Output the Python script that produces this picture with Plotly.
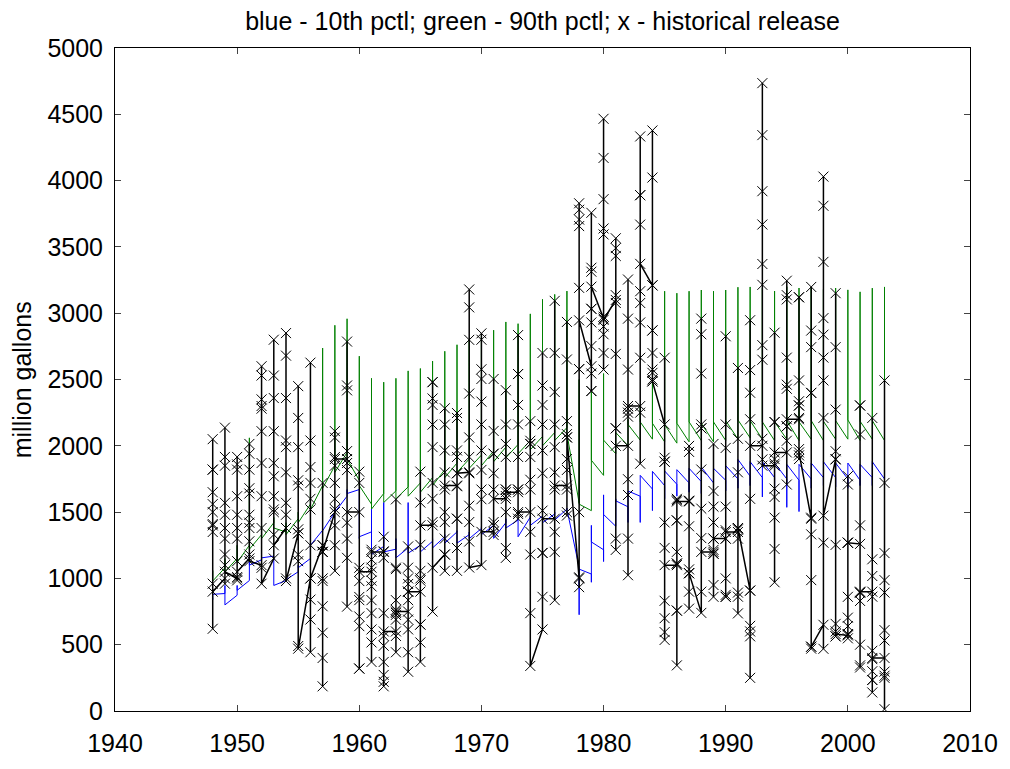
import plotly.graph_objects as go

years = list(range(1948, 2004))

# historical monthly releases (million gallons), 12 values per year
hist = [
    [1400, 1820, 2050, 1820, 1650, 1560, 1500, 1410, 1350, 960, 620, 900],
    [1000, 2137, 1916, 1850, 1570, 1480, 1380, 1300, 1180, 1100, 960, 1050],
    [1000, 1916, 1860, 1820, 1620, 1480, 1380, 1300, 1130, 1010, 985, 1050],
    [1150, 2014, 1940, 1820, 1680, 1640, 1480, 1420, 1380, 1280, 1180, 1130],
    [1100, 2600, 2530, 2350, 2300, 2280, 2110, 1870, 1620, 1380, 1080, 960],
    [1150, 2800, 2530, 2360, 2110, 1870, 1770, 1620, 1520, 1500, 1330, 1250],
    [1380, 2850, 2680, 2360, 2040, 1990, 1800, 1570, 1480, 1380, 1000, 980],
    [1340, 2450, 2210, 1990, 1740, 1700, 1370, 1340, 1180, 1130, 490, 470],
    [1000, 2627, 2040, 1840, 1720, 1600, 1520, 1250, 840, 690, 443, 1000],
    [1250, 1720, 1250, 1200, 980, 790, 590, 400, 186, 1000, 1200, 1200],
    [1500, 2111, 2062, 1915, 1850, 1720, 1600, 1523, 1400, 1250, 1057, 1900],
    [1900, 2786, 2455, 2418, 1960, 1870, 1817, 1420, 1300, 1155, 787, 1500],
    [1500, 1805, 1720, 1080, 980, 860, 836, 713, 640, 320, 320, 1050],
    [1050, 1216, 1143, 1081, 983, 940, 836, 738, 615, 517, 370, 1200],
    [1200, 1314, 1204, 1155, 738, 566, 492, 370, 272, 186, 220, 600],
    [600, 1596, 1081, 1070, 836, 763, 740, 725, 689, 566, 443, 750],
    [750, 1241, 1081, 1000, 958, 900, 836, 689, 615, 443, 296, 900],
    [900, 1805, 1572, 1253, 1057, 983, 652, 652, 517, 370, 1000, 1400],
    [1400, 2480, 2480, 2357, 2308, 2160, 1990, 1720, 1600, 1425, 750, 1080],
    [1180, 2283, 2160, 1965, 1800, 1670, 1425, 1300, 1180, 1057, 1500, 1700],
    [1700, 2247, 2210, 1965, 1916, 1793, 1695, 1450, 1450, 1229, 1057, 1793],
    [1800, 3179, 3044, 2799, 2394, 2063, 1916, 1793, 1548, 1425, 1278, 1082],
    [1100, 2848, 2800, 2577, 2504, 2333, 2161, 1965, 1818, 1670, 1597, 1351],
    [1351, 2504, 2112, 1940, 1940, 1793, 1670, 1425, 1400, 1400, 1327, 1600],
    [1600, 2419, 2161, 2014, 1916, 1670, 1670, 1621, 1500, 1229, 1155, 1650],
    [1650, 2835, 2541, 2541, 2308, 2161, 1916, 1670, 1670, 1486, 1450, 1500],
    [1500, 2186, 2038, 2014, 2014, 1916, 1744, 1670, 1351, 1180, 738, 340],
    [615, 2700, 2455, 2308, 2161, 1965, 1793, 1511, 1192, 1192, 861, 1450],
    [1450, 3093, 2700, 2406, 2161, 1990, 1800, 1670, 1351, 1200, 836, 1700],
    [1700, 2934, 2651, 2186, 1900, 1818, 1670, 1500, 1474, 2088, 2063, 2063],
    [1000, 934, 1008, 2578, 3191, 3657, 3706, 3780, 3829, 2578, 1500, 2946],
    [2600, 3757, 3343, 3313, 3033, 3033, 2930, 2752, 2545, 2413, 2413, 3200],
    [2960, 4466, 4171, 3860, 3639, 3594, 2974, 2900, 2841, 2575, 2700, 2950],
    [3100, 3565, 3491, 3432, 3136, 3077, 2693, 2132, 2132, 1215, 1300, 2000],
    [2000, 3254, 2959, 2575, 2279, 2250, 2220, 1748, 1629, 1024, 1300, 2300],
    [2300, 4333, 3890, 3890, 3668, 3166, 3077, 2930, 2664, 2250, 1865, 3372],
    [3210, 3210, 4378, 4023, 2870, 2870, 2575, 2700, 2550, 2500, 2486, 2486],
    [2161, 2664, 1910, 1880, 1880, 1422, 1230, 831, 700, 595, 536, 1100],
    [1100, 1600, 1590, 1437, 1437, 1112, 1112, 757, 757, 344, 1200, 1580],
    [1580, 1999, 1954, 1585, 1585, 1393, 1068, 1039, 1039, 900, 772, 1040],
    [740, 2959, 2841, 2545, 2161, 2132, 2132, 1821, 1526, 1304, 900, 1200],
    [1200, 2014, 1659, 1541, 1422, 1300, 1215, 1186, 1186, 950, 861, 1300],
    [1300, 2826, 2161, 1984, 1541, 1363, 1300, 1000, 876, 861, 861, 1350],
    [1350, 2587, 2053, 1800, 1379, 1379, 1370, 1300, 893, 862, 736, 1380],
    [908, 2947, 2571, 2400, 2200, 1600, 908, 642, 600, 563, 250, 2000],
    [2000, 4735, 4343, 3920, 3669, 3371, 3214, 2759, 2649, 2053, 1897, 1850],
    [1850, 2853, 2179, 2179, 1865, 1677, 1614, 1458, 1222, 971, 1900, 1950],
    [1950, 3245, 3136, 3104, 2665, 2461, 2430, 2147, 2147, 2038, 1708, 2200],
    [2200, 3120, 3120, 2493, 2336, 2304, 2304, 2210, 1975, 1928, 1900, 1950],
    [1450, 3198, 2869, 2744, 2399, 2399, 1458, 1332, 987, 485, 470, 485],
    [650, 4030, 3810, 3387, 2963, 2838, 2665, 2493, 2210, 469, 1269, 1473],
    [1900, 3151, 2744, 2273, 1959, 1897, 1253, 657, 600, 563, 563, 580],
    [570, 1771, 1708, 1269, 1269, 861, 704, 640, 579, 579, 548, 1269],
    [1260, 2304, 2304, 2085, 1400, 893, 893, 830, 344, 328, 500, 900],
    [900, 2210, 1144, 1018, 862, 454, 391, 300, 234, 234, 140, 400],
    [400, 2493, 1720, 1191, 987, 893, 610, 532, 297, 266, 250, 14],
]

# 90th percentile (green): per year path values
pct90 = [
    [1000, 1060, 980], [1080, 1150, 1050], [1150, 1250, 1120], [1250, 2060, 1220],
    [1330, 1400, 1300], [1420, 1460, 1380], [1350, 1420, 1330], [1450, 1500, 1420],
    [1560, 1750, 1520], [1700, 2737, 1680], [1850, 2909, 1800], [1950, 2958, 1900],
    [1740, 2676, 1700], [1560, 2509, 1523], [1640, 2480, 1572], [1660, 2509, 1600],
    [1690, 2565, 1620], [1720, 2583, 1650], [1760, 2639, 1700], [1820, 2713, 1760],
    [1870, 2762, 1800], [1900, 2800, 1830], [1930, 2840, 1850], [1960, 2872, 1880],
    [1990, 2934, 1910], [2010, 2921, 1940], [2040, 2995, 1970], [2070, 3105, 2000],
    [2100, 3142, 2040], [2137, 3167, 2090], [1570, 2500, 1560], [1511, 2406, 1891],
    [1777, 2545, 2043], [1940, 2100, 2100], [2000, 2200, 2161], [2043, 2300, 2180],
    [2050, 2486, 2170], [2030, 3166, 2160], [2020, 3151, 2170], [2030, 3166, 2180],
    [2040, 3175, 2170], [2030, 3166, 2180], [2040, 3175, 2190], [2050, 3196, 2195],
    [2060, 3198, 2190], [2050, 3190, 2180], [2040, 3167, 2180], [2050, 3200, 2190],
    [2040, 3190, 2180], [2050, 3198, 2190], [2040, 3180, 2185], [2050, 3190, 2190],
    [2050, 3176, 2195], [2040, 3161, 2185], [2050, 3189, 2190], [2040, 3198, 2050],
]

# 10th percentile (blue): per year path values
pct10 = [
    [850, 840, 880], [886, 947, 800], [873, 947, 910], [984, 1192, 1100],
    [1140, 1155, 1155], [1168, 1168, 947], [984, 1000, 990], [1050, 1100, 1080],
    [1150, 1260, 1250], [1363, 1370, 1360], [1500, 1523, 1500], [1620, 1670, 1640],
    [1670, 1300, 1314], [1351, 1523, 1180], [1241, 1572, 1200], [1220, 1300, 1155],
    [1230, 1572, 1190], [1250, 1280, 1200], [1280, 1300, 1230], [1314, 1330, 1266],
    [1351, 1360, 1266], [1330, 1350, 1300], [1376, 1390, 1330], [1400, 1410, 1302],
    [1420, 1450, 1380], [1440, 1450, 1314], [1462, 1470, 1400], [1470, 1480, 1420],
    [1486, 1500, 1440], [1523, 1530, 1523], [1082, 726, 1070], [1033, 971, 1400, 1275],
    [1216, 1127, 1630, 1482], [1393, 1600, 1585], [1540, 1422, 1659], [1620, 1422, 1777],
    [1674, 1511, 1807], [1700, 1600, 1810], [1710, 1620, 1820], [1720, 1650, 1830],
    [1730, 1640, 1840], [1720, 1650, 1830], [1740, 1660, 1850], [1750, 1680, 1897],
    [1771, 1700, 1880], [1760, 1614, 1880], [1760, 1640, 1870], [1750, 1536, 1860],
    [1740, 1504, 1860], [1750, 1680, 1870], [1760, 1700, 1880], [1760, 1690, 1870],
    [1750, 1680, 1870], [1740, 1700, 1860], [1760, 1700, 1880], [1750, 1740, 1750],
]

title_text = "blue - 10th pctl; green - 90th pctl; x - historical release"
y_label = "million gallons"
x_ticks = [1940, 1950, 1960, 1970, 1980, 1990, 2000, 2010]
y_ticks = list(range(0, 5001, 500))


def flatten(series):
    xs, ys = [], []
    for yr, vals in zip(years, series):
        xs.extend([yr] * len(vals))
        ys.extend(vals)
    return xs, ys


gx, gy = flatten(pct90)
bx, by = flatten(pct10)
hx, hy = flatten(hist)

FONT = "Liberation Sans, Arial, sans-serif"

fig = go.Figure()
fig.add_trace(go.Scatter(x=gx, y=gy, mode="lines",
                         line=dict(color="#008000", width=1), showlegend=False))
fig.add_trace(go.Scatter(x=bx, y=by, mode="lines",
                         line=dict(color="#0000FF", width=1), showlegend=False))
fig.add_trace(go.Scatter(x=hx, y=hy, mode="lines+markers",
                         line=dict(color="black", width=1.5),
                         marker=dict(symbol="x-thin", size=10, color="black",
                                     line=dict(width=1, color="black")),
                         showlegend=False))

fig.update_layout(
    width=1010, height=769,
    margin=dict(l=115, r=36, t=48, b=42),
    paper_bgcolor="white", plot_bgcolor="white",
    font=dict(family=FONT, color="black", size=24),
    title=dict(text=title_text, x=0.5, xref="paper", xanchor="center",
               y=1 - 21 / 769, yref="container", yanchor="middle",
               font=dict(family=FONT, size=25, color="black")),
    annotations=[dict(text=y_label, xref="paper", yref="paper",
                      x=-0.109, y=0.5, xanchor="center", yanchor="middle",
                      textangle=-90, showarrow=False,
                      font=dict(family=FONT, size=25, color="black"))],
)
fig.update_xaxes(range=[1940, 2010], tickvals=x_ticks, ticks="inside", ticklen=6,
                 showline=True, linecolor="black", linewidth=1, mirror="ticks",
                 showgrid=False, zeroline=False, tickfont=dict(size=25),
                 ticklabelstandoff=10)
fig.update_yaxes(range=[0, 5000], tickvals=y_ticks, ticks="inside", ticklen=6,
                 showline=True, linecolor="black", linewidth=1, mirror="ticks",
                 showgrid=False, zeroline=False, tickfont=dict(size=25),
                 ticklabelstandoff=6)

fig.write_html("out.html")
